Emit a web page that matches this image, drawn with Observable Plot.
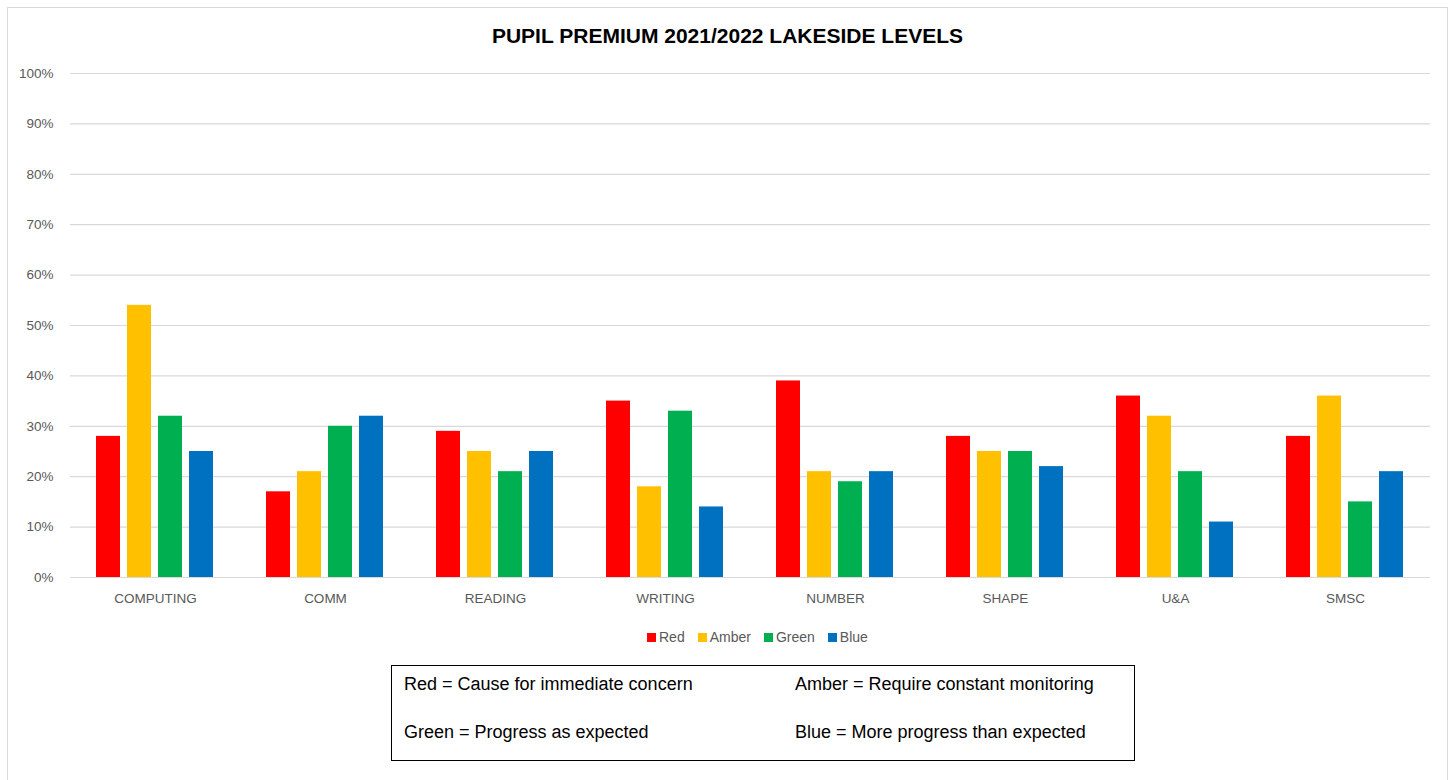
<!DOCTYPE html>
<html>
<head>
<meta charset="utf-8">
<script src="https://cdn.jsdelivr.net/npm/d3@7"></script>
<script src="https://cdn.jsdelivr.net/npm/@observablehq/plot@0.6"></script>
<style>
  html, body { margin: 0; padding: 0; background: #fff; }
  body { width: 1455px; height: 780px; position: relative; overflow: hidden; font-family: "Liberation Sans", Arial, sans-serif; }
  #frame { position: absolute; left: 7px; top: 7px; width: 1441px; height: 790px; border: 1px solid #d9d9d9; box-sizing: border-box; }
  #title { position: absolute; left: 0; top: 23px; width: 1455px; text-align: center; font-weight: bold; font-size: 21px; line-height: 26px; color: #000; }
  #chart { position: absolute; left: 0; top: 0; }
  #legend { position: absolute; left: 647px; top: 629px; display: flex; align-items: center; font-size: 14px; color: #595959; line-height: 16px; }
  #legend .item { display: flex; align-items: center; margin-right: 13px; }
  #legend .sw { width: 9px; height: 9px; margin-right: 3px; }
  #box { position: absolute; left: 391px; top: 665px; width: 744px; height: 96px; border: 1px solid #000; box-sizing: border-box; font-size: 18px; color: #000; }
  #box div { position: absolute; white-space: nowrap; line-height: 20px; }
</style>
</head>
<body>
<div id="frame"></div>
<div id="title">PUPIL PREMIUM 2021/2022 LAKESIDE LEVELS</div>
<div id="chart"></div>
<div id="legend"></div>
<div id="box"></div>
<script>
const categories = ["COMPUTING", "COMM", "READING", "WRITING", "NUMBER", "SHAPE", "U&A", "SMSC"];
const series = ["Red", "Amber", "Green", "Blue"];
const seriesColors = ["#FF0000", "#FFC000", "#00B050", "#0070C0"];
const redValues   = [28, 17, 29, 35, 39, 28, 36, 28];
const amberValues = [54, 21, 25, 18, 21, 25, 32, 36];
const greenValues = [32, 30, 21, 33, 19, 25, 21, 15];
const blueValues  = [25, 32, 25, 14, 21, 22, 11, 21];
const yTicks = [0, 10, 20, 30, 40, 50, 60, 70, 80, 90, 100];
const keyTexts = [
  "Red = Cause for immediate concern",
  "Amber = Require constant monitoring",
  "Green = Progress as expected",
  "Blue = More progress than expected"
];

const valuesBySeries = [redValues, amberValues, greenValues, blueValues];
const data = [];
categories.forEach((cat, i) => {
  series.forEach((s, j) => {
    data.push({cat, series: s, value: valuesBySeries[j][i]});
  });
});

const chart = Plot.plot({
  width: 1455,
  height: 620,
  marginLeft: 70,
  marginRight: 25,
  marginTop: 73,
  marginBottom: 43,
  style: {fontFamily: "'Liberation Sans', Arial, sans-serif", fontSize: "13.5px", color: "#595959", background: "transparent", overflow: "visible"},
  fx: {domain: categories, padding: 0, label: null, tickSize: 0, tickPadding: 16, axis: "bottom"},
  x: {domain: series, paddingInner: 0.21, paddingOuter: 0.845, axis: null},
  y: {domain: [0, 100], ticks: yTicks, tickFormat: d => d + "%", label: null, tickSize: 0, tickPadding: 17},
  color: {domain: series, range: seriesColors},
  marks: [
    Plot.gridY(yTicks, {stroke: "#d9d9d9", strokeOpacity: 1, strokeWidth: 1.2}),
    Plot.barY(data, {fx: "cat", x: "series", y: "value", fill: "series"})
  ]
});
document.getElementById("chart").appendChild(chart);

const legend = document.getElementById("legend");
series.forEach((s, j) => {
  const item = document.createElement("div");
  item.className = "item";
  const sw = document.createElement("div");
  sw.className = "sw";
  sw.style.background = seriesColors[j];
  const t = document.createElement("span");
  t.textContent = s;
  item.appendChild(sw);
  item.appendChild(t);
  legend.appendChild(item);
});

const box = document.getElementById("box");
const pos = [[12, 8], [403, 8], [12, 56], [403, 56]];
keyTexts.forEach((txt, i) => {
  const d = document.createElement("div");
  d.textContent = txt;
  d.style.left = pos[i][0] + "px";
  d.style.top = pos[i][1] + "px";
  box.appendChild(d);
});
</script>
</body>
</html>
